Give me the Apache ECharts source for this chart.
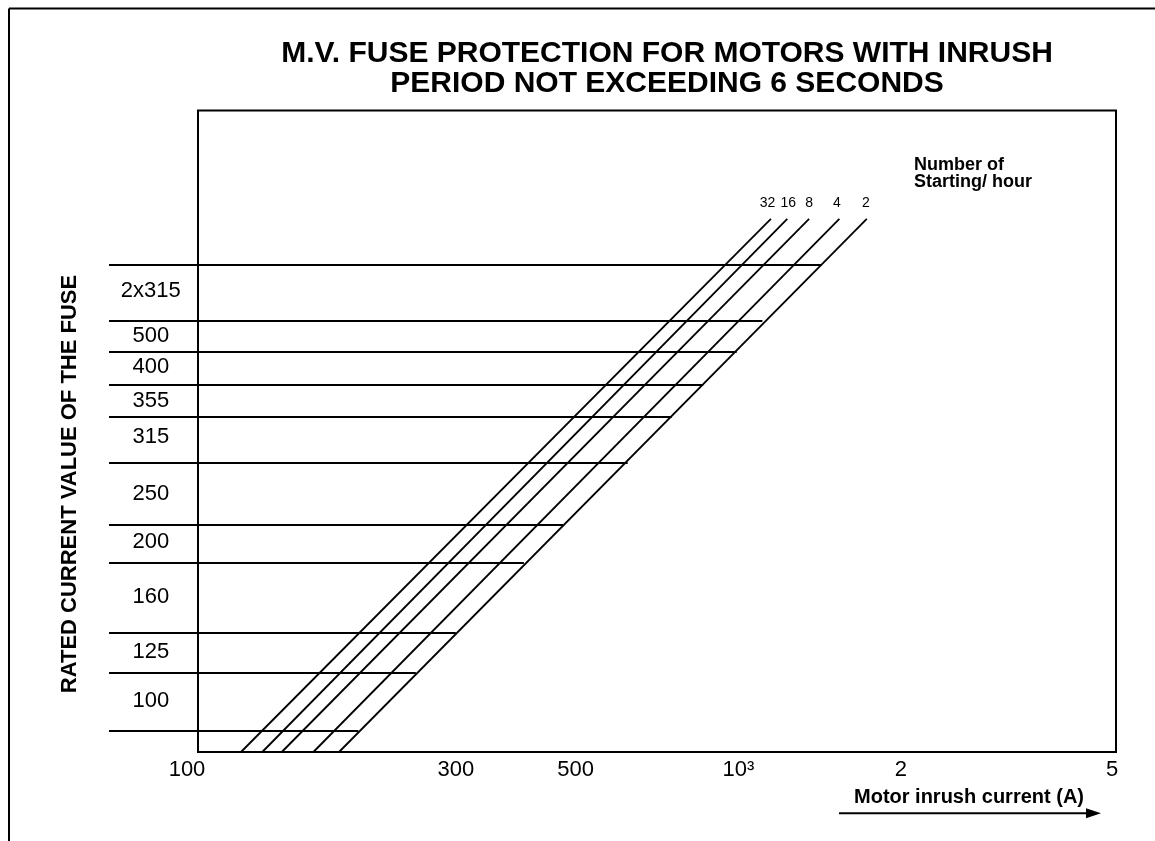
<!DOCTYPE html>
<html>
<head>
<meta charset="utf-8">
<script src="https://cdn.jsdelivr.net/npm/echarts@6/dist/echarts.min.js"></script>
<style>html,body{margin:0;padding:0;background:#fff}#c{width:1155px;height:841px}</style>
</head>
<body>
<div id="c"></div>
<script>
// ---- DATA ----
// Fuse rating bands (bottom to top) and the relative level of each band label (0-100 scale)
const fuseRatings = ['100', '125', '160', '200', '250', '315', '355', '400', '500', '2x315'];
const fuseLabelLevels = [8.0, 15.6, 24.2, 32.8, 40.2, 49.1, 54.8, 60.0, 64.9, 71.9];
// Boundary levels between bands (bottom to top)
const boundaryLevels = [3.3, 12.4, 18.6, 29.5, 35.4, 45.1, 52.3, 57.3, 62.4, 67.3, 75.9];
// Motor inrush current (A) where each boundary line ends
const boundaryEndCurrent = [198, 253, 300, 401, 474, 624, 753, 861, 993, 1108, 1427];
// Starting-frequency curves
const startsPerHour = ['32', '16', '8', '4', '2'];
const curveStartCurrent = [120.1, 131.5, 142.9, 163.5, 182.4];
const curveEndCurrent = [1149, 1232, 1352, 1538, 1729];
const curveStartLevel = [0, 0, 0, 0, 0];
const curveEndLevel = [83.1, 83.1, 83.1, 83.1, 83.1];
// X-axis ticks
const xTickValues = [100, 300, 500, 1000, 2000, 5000];
const xTickLabels = ['100', '300', '500', '10\u00B3', '2', '5'];

// ---- LAYOUT (not data) ----
const FONT = 'Liberation Sans';
const bandLabelX = 0.47;
const curveLabelNudge = [-3.5, 1, 0, -2.5, -1];

// ---- CHART ----
const chart = echarts.init(document.getElementById('c'), null, {renderer: 'canvas'});

const xMin = xTickValues[0], xMax = xTickValues[xTickValues.length - 1];
const levelMin = 0, levelMax = 100;

const series = [];
series.push({
  type: 'lines', coordinateSystem: 'cartesian2d', xAxisIndex: 0, yAxisIndex: 0,
  silent: true, polyline: false,
  lineStyle: {color: '#000', width: 2, opacity: 1, curveness: 0},
  data: boundaryLevels.map((y, i) => ({coords: [[xMin, y], [boundaryEndCurrent[i], y]]}))
});
series.push({
  type: 'lines', coordinateSystem: 'cartesian2d', xAxisIndex: 1, yAxisIndex: 1,
  silent: true, polyline: false,
  lineStyle: {color: '#000', width: 2, opacity: 1, curveness: 0},
  data: boundaryLevels.map((y) => ({coords: [[0, y], [1, y]]}))
});
series.push({
  type: 'scatter', xAxisIndex: 1, yAxisIndex: 1, symbolSize: 0, silent: true,
  itemStyle: {color: '#000', opacity: 1},
  label: {show: true, position: 'inside', formatter: '{b}', color: '#000', opacity: 1,
          textBorderWidth: 0, fontFamily: FONT, fontSize: 22},
  data: fuseRatings.map((n, i) => ({name: n, value: [bandLabelX, fuseLabelLevels[i]]}))
});
startsPerHour.forEach((name, i) => {
  series.push({
    type: 'line', name: name, xAxisIndex: 0, yAxisIndex: 0,
    symbol: 'circle', symbolSize: 0, silent: true,
    lineStyle: {color: '#000', width: 1.8},
    itemStyle: {color: '#000'},
    label: {show: false},
    data: [
      {value: [curveStartCurrent[i], curveStartLevel[i]]},
      {value: [curveEndCurrent[i], curveEndLevel[i]],
       label: {show: true, position: 'top', distance: 9, formatter: name, offset: [curveLabelNudge[i], 0],
               color: '#000', fontFamily: FONT, fontSize: 14, textBorderWidth: 0}}
    ]
  });
});

const hidden = {axisLine: {show: false}, axisTick: {show: false}, axisLabel: {show: false}, splitLine: {show: false}};

function tickLabel(v) {
  let idx = -1;
  xTickValues.forEach((t, i) => { if (Math.abs(Math.log10(t) - v) < 1e-6) idx = i; });
  if (idx < 0) return '';
  const s = xTickLabels[idx];
  if (idx === 0) return '{l|' + s + '}';
  if (idx === xTickValues.length - 1) return '{r|' + s + '}';
  return '{n|' + s + '}';
}

const option = {
  animation: false,
  backgroundColor: '#fff',
  textStyle: {fontFamily: FONT},
  title: [{
    text: 'M.V. FUSE PROTECTION FOR MOTORS WITH INRUSH\nPERIOD NOT EXCEEDING 6 SECONDS',
    left: 662, top: 34, textAlign: 'center',
    textStyle: {fontFamily: FONT, fontSize: 30, fontWeight: 'bold', color: '#000', lineHeight: 30}
  }, {
    text: 'Number of\nStarting/ hour',
    left: 909, top: 152,
    textStyle: {fontFamily: FONT, fontSize: 18, fontWeight: 'bold', color: '#000', lineHeight: 17}
  }],
  grid: [{
    left: 198, right: 39, top: 110.5, bottom: 89,
    show: true, borderColor: '#000', borderWidth: 2, backgroundColor: 'transparent',
    outerBoundsMode: 'none', containLabel: false
  }, {
    left: 109, width: 89, top: 110.5, bottom: 89,
    show: false, outerBoundsMode: 'none', containLabel: false
  }],
  xAxis: [
    Object.assign({type: 'log', logBase: 10, gridIndex: 0, min: xMin, max: xMax}, hidden),
    Object.assign({type: 'value', gridIndex: 1, min: 0, max: 1}, hidden),
    {
      type: 'value', gridIndex: 0, position: 'bottom',
      min: Math.log10(xMin), max: Math.log10(xMax),
      axisLine: {show: false}, axisTick: {show: false}, splitLine: {show: false},
      axisLabel: {
        show: true, margin: 7, color: '#000', fontFamily: FONT, fontSize: 22,
        customValues: xTickValues.map(v => Math.log10(v)),
        formatter: tickLabel,
        rich: {
          l: {fontFamily: FONT, fontSize: 22, color: '#000', padding: [0, 22, 0, 0]},
          r: {fontFamily: FONT, fontSize: 22, color: '#000', padding: [0, 8, 0, 0]},
          n: {fontFamily: FONT, fontSize: 22, color: '#000'}
        }
      }
    }
  ],
  yAxis: [
    Object.assign({type: 'value', gridIndex: 0, min: levelMin, max: levelMax}, hidden),
    Object.assign({type: 'value', gridIndex: 1, min: levelMin, max: levelMax}, hidden)
  ],
  graphic: [
    {type: 'line', shape: {x1: 9, y1: 8.5, x2: 1155, y2: 8.5}, style: {stroke: '#000', lineWidth: 2}},
    {type: 'line', shape: {x1: 9, y1: 8.5, x2: 9, y2: 841}, style: {stroke: '#000', lineWidth: 2}},
    {type: 'text', x: 70, y: 484, rotation: Math.PI / 2,
     style: {text: 'RATED CURRENT VALUE OF THE FUSE', fontFamily: FONT, fontSize: 22, fontWeight: 'bold',
             fill: '#000', align: 'center', verticalAlign: 'middle'}},
    {type: 'text', x: 969, y: 797,
     style: {text: 'Motor inrush current (A)', fontFamily: FONT, fontSize: 20, fontWeight: 'bold',
             fill: '#000', align: 'center', verticalAlign: 'middle'}},
    {type: 'line', shape: {x1: 839, y1: 813.3, x2: 1090, y2: 813.3}, style: {stroke: '#000', lineWidth: 2}},
    {type: 'polygon', shape: {points: [[1086, 808.3], [1101, 813.3], [1086, 818.3]]}, style: {fill: '#000'}}
  ],
  series: series
};
chart.setOption(option);
</script>
</body>
</html>
